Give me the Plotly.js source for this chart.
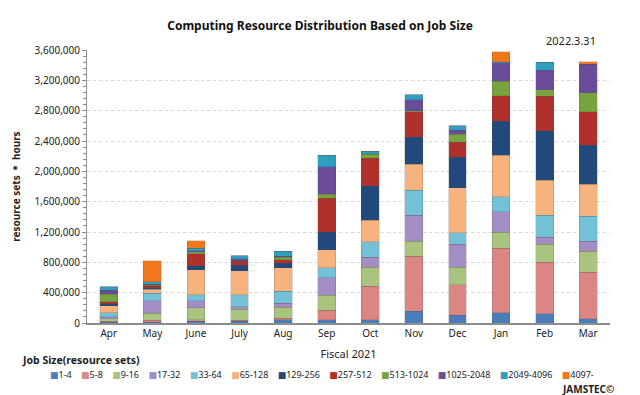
<!DOCTYPE html>
<html><head><meta charset="utf-8">
<script src="https://cdn.plot.ly/plotly-3.0.1.min.js"></script>
<style>html,body{margin:0;padding:0;background:#fff;}#chart{width:640px;height:395px;}</style>
</head><body><div id="chart"></div>
<script>
const months = ['Apr','May','June','July','Aug','Sep','Oct','Nov','Dec','Jan','Feb','Mar'];
const jobSizes = ['1-4','5-8','9-16','17-32','33-64','65-128','129-256','257-512','513-1024','1025-2048','2049-4096','4097-'];
const colors = ['#4a7ebb','#dc8683','#a9c47f','#a48dc4','#72c1d6','#f6b37d','#21497c','#b0302c','#78a43e','#6b4c9a','#2e9fc0','#f07818'];
const s1_4      = [13000, 10000, 22000, 20000, 40000, 44000, 44000, 154000, 101000, 132000, 119000, 57000];
const s5_8      = [10000, 25000, 18000, 15000, 26000, 123000, 441000, 728000, 406000, 851000, 684000, 613000];
const s9_16     = [35000, 95000, 159000, 146000, 141000, 198000, 251000, 199000, 229000, 216000, 234000, 278000];
const s17_32    = [26000, 165000, 97000, 31000, 53000, 229000, 132000, 340000, 300000, 265000, 97000, 132000];
const s33_64    = [50000, 95000, 75000, 163000, 159000, 132000, 203000, 331000, 154000, 199000, 287000, 331000];
const s65_128   = [95000, 55000, 330000, 315000, 309000, 243000, 282000, 344000, 596000, 551000, 463000, 419000];
const s129_256  = [22000, 20000, 57000, 70000, 62000, 229000, 454000, 353000, 397000, 446000, 653000, 516000];
const s257_512  = [31000, 20000, 154000, 53000, 44000, 445000, 366000, 340000, 199000, 340000, 450000, 441000];
const s513_1024 = [95000, 10000, 30000, 10000, 35000, 53000, 53000, 10000, 106000, 185000, 88000, 247000];
const s1025_2048= [55000, 15000, 10000, 22000, 10000, 366000, 5000, 146000, 57000, 247000, 256000, 375000];
const s2049_4096= [44000, 35000, 35000, 40000, 65000, 150000, 35000, 66000, 57000, 10000, 110000, 5000];
const s4097     = [5000, 275000, 97000, 0, 5000, 0, 0, 0, 0, 132000, 0, 31000];
const series = [s1_4,s5_8,s9_16,s17_32,s33_64,s65_128,s129_256,s257_512,s513_1024,s1025_2048,s2049_4096,s4097];
const yTicks = [0,400000,800000,1200000,1600000,2000000,2400000,2800000,3200000,3600000];

const font = 'Noto Sans, DejaVu Sans, sans-serif';
const traces = series.map((vals,i)=>({
  type:'bar', name:jobSizes[i], x:months, y:vals,
  marker:{color:colors[i], line:{color:'rgba(80,80,80,0.35)', width:0.6}},
  showlegend:false
}));

const legendText = jobSizes.map((n,i)=>`<span style="color:${colors[i]}">■</span>${n}`).join('\u00a0\u00a0\u00a0\u00a0');

const layout = {
  width:640, height:395,
  margin:{l:87, r:30, t:50, b:72},
  paper_bgcolor:'#fff', plot_bgcolor:'#fff',
  barmode:'stack', bargap:0.59,
  font:{family:font, size:10, color:'#222'},
  title:{text:'<b>Computing Resource Distribution Based on Job Size</b>', x:0.5, xanchor:'center', y:0.935, yanchor:'middle', font:{size:12, family:font, color:'#111'}},
  xaxis:{showline:true, linecolor:'#8c8c8c', linewidth:1.5, ticks:'', tickfont:{size:10},
    title:{text:'Fiscal 2021', font:{size:11}, standoff:12}},
  yaxis:{range:[0,3600000], tickvals:yTicks, tickformat:',d', showline:true, linecolor:'#8c8c8c',
    ticks:'outside', ticklen:4, tickcolor:'#8c8c8c',
    minor:{dtick:80000, ticks:'outside', ticklen:3, tickcolor:'#8c8c8c', showgrid:false},
    gridcolor:'#d9d9d9', griddash:'dot', zeroline:false, tickfont:{size:10},
    title:{text:'<b>resource sets ＊ hours</b>', font:{size:10}, standoff:12}},
  annotations:[
    {text:'2022.3.31', xref:'paper', yref:'paper', x:0.977, y:1.033, xanchor:'right', yanchor:'middle', showarrow:false, font:{size:11}},
    {text:'<b>Job Size(resource sets)</b>', xref:'paper', yref:'paper', xanchor:'left', yanchor:'middle', x:-0.128, y:-0.135, showarrow:false, font:{size:10.5}},
    {text:legendText, xref:'paper', yref:'paper', xanchor:'center', yanchor:'middle', x:0.449, y:-0.188, showarrow:false, font:{size:9}},
    {text:'<b>JAMSTEC©</b>', xref:'paper', yref:'paper', xanchor:'right', yanchor:'middle', x:1.012, y:-0.24, showarrow:false, font:{size:10}}
  ]
};
Plotly.newPlot('chart', traces, layout, {displayModeBar:false, staticPlot:true});
</script></body></html>
